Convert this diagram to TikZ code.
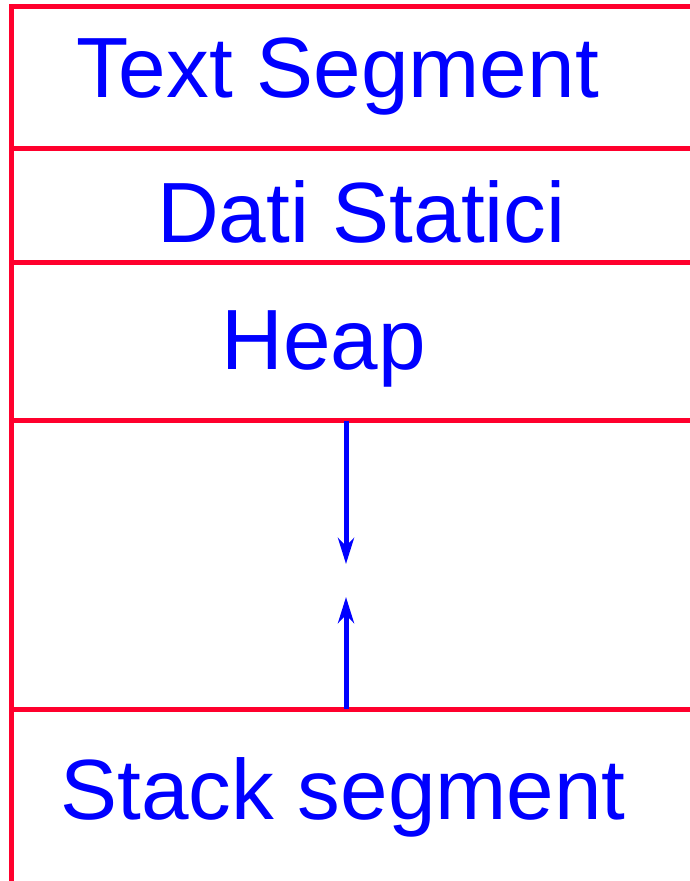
\documentclass[tikz,border=0pt]{standalone}
\usepackage{fontspec}
\setmainfont{Liberation Sans}
\usetikzlibrary{arrows.meta}
\definecolor{segred}{RGB}{255,0,45}
\definecolor{segblue}{RGB}{0,0,255}
\tikzset{
  wall/.style={draw=segred, line width=5pt},
  lbl/.style={text=segblue, font=\fontsize{85.5}{92}\selectfont, inner sep=0pt, anchor=base},
  growarrow/.style={draw=segblue, line width=5pt, -{Stealth[length=26pt,width=16pt,inset=8pt]}}
}
\begin{document}
\begin{tikzpicture}[x=1pt,y=-1pt]
\useasboundingbox (0,0) rectangle (690,881);
% frame lines
\coordinate (tl) at (9,6.5);
\coordinate (tr) at (690,6.5);
\coordinate (lt) at (11.5,4);
\coordinate (lb) at (11.5,881);
\draw[wall] (tl) -- (tr);
\draw[wall] (lt) -- (lb);
\coordinate (l1) at (11.5,148.7); \coordinate (r1) at (690,148.7);
\coordinate (l2) at (11.5,262);   \coordinate (r2) at (690,262);
\coordinate (l3) at (11.5,420.5); \coordinate (r3) at (690,420.5);
\coordinate (l4) at (11.5,709);   \coordinate (r4) at (690,709);
\draw[wall] (l1) -- (r1);
\draw[wall] (l2) -- (r2);
\draw[wall] (l3) -- (r3);
\draw[wall] (l4) -- (r4);
% labels
\node[lbl] (text) at (337.5,97) {Text Segment};
\node[lbl] (dati) at (361.5,242) {Dati Statici};
\node[lbl] (heap) at (323.5,369) {Heap};
\node[lbl] (stack) at (343,819) {Stack segment};
% growth arrows
\coordinate (hs) at (346,420.5);
\coordinate (he) at (346,564);
\coordinate (ss) at (346,709);
\coordinate (se) at (346,597);
\draw[growarrow] (hs) -- (he);
\draw[growarrow] (ss) -- (se);
\end{tikzpicture}
\end{document}
